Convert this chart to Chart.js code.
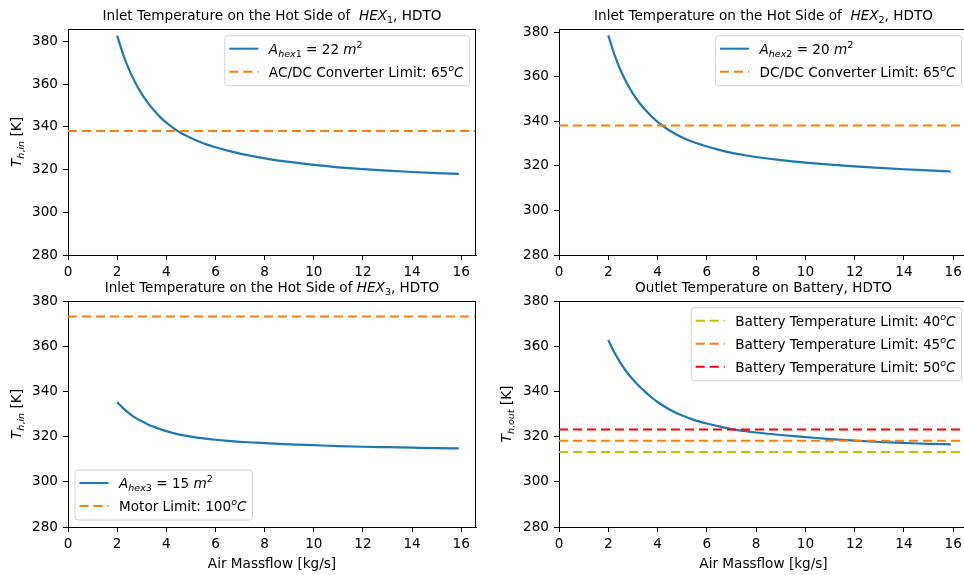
<!DOCTYPE html>
<html>
<head>
<meta charset="utf-8">
<script src="https://cdn.jsdelivr.net/npm/chart.js@4.4.1/dist/chart.umd.min.js"></script>
<style>
  html, body { margin: 0; padding: 0; background: #fff; overflow: hidden; width: 964px; height: 575px; }
  canvas { position: absolute; left: 0; top: 0; }
</style>
</head>
<body>
<canvas id="hex1" width="1000" height="575"></canvas>
<canvas id="hex2" width="1000" height="575"></canvas>
<canvas id="hex3" width="1000" height="575"></canvas>
<canvas id="battery" width="1000" height="575"></canvas>
<script>
// data (air massflow in kg/s, temperatures in K)
const massflow = [2, 2.25, 2.5, 2.75, 3, 3.25, 3.5, 3.75, 4, 4.5, 5, 5.5, 6, 6.5, 7, 7.5, 8, 9, 10, 11, 12, 13, 14, 15, 15.9];
const tHex1    = [382.8, 373.8, 366.5, 360.5, 355.5, 351.3, 347.8, 344.6, 342.0, 337.8, 334.8, 332.4, 330.5, 328.9, 327.5, 326.3, 325.3, 323.6, 322.2, 321.1, 320.2, 319.5, 318.9, 318.4, 318.0];
const tHex2    = [378.6, 370.0, 363.0, 357.2, 352.5, 348.5, 345.2, 342.3, 339.8, 335.8, 332.8, 330.5, 328.7, 327.2, 325.9, 324.9, 324.0, 322.6, 321.5, 320.6, 319.8, 319.1, 318.5, 318.0, 317.5];
const tHex3    = [335.2, 332.5, 330.2, 328.3, 326.8, 325.4, 324.3, 323.3, 322.4, 321.0, 320.0, 319.2, 318.6, 318.1, 317.7, 317.4, 317.1, 316.6, 316.2, 315.8, 315.5, 315.3, 315.1, 314.9, 314.8];
const tBattery = [362.8, 357.2, 352.5, 348.6, 345.3, 342.4, 339.8, 337.4, 335.3, 331.9, 329.3, 327.3, 325.8, 324.5, 323.3, 322.5, 321.8, 320.7, 319.8, 318.9, 318.2, 317.6, 317.2, 316.8, 316.6];

const limitConverter = 338.15;   // 65 C
const limitMotor = 373.15;       // 100 C
const limitBattery = [313.15, 318.15, 323.15]; // 40, 45, 50 C

const xRange = [0, 16.6];
const xStep = 2;
const yMin = 280;
const yStep = 20;
const yMaxes = [385.9, 381.5, 380, 380];

const BLUE = '#1f77b4', ORANGE = '#ff7f0e', RED = '#ff0000', OLIVE = '#bfbf00';
const FONT = 'DejaVu Sans';
const FS = 13.6;

function pts(ys) { return massflow.map((m, i) => ({ x: m, y: ys[i] })); }
function hline(v) { return xRange.map(x => ({ x: x, y: v })); }

function curve(ys) {
  return { data: pts(ys), borderColor: BLUE, borderWidth: 2.2, showLine: true, pointRadius: 0,
           cubicInterpolationMode: 'monotone', order: 10 };
}
function limit(v, color) {
  return { data: hline(v), borderColor: color, borderWidth: 2, borderDash: [9, 5], showLine: true,
           pointRadius: 0, order: 1 };
}

// rich text: segments {t, it, sub, sup}
function segFont(s) {
  const size = (s.sub || s.sup) ? FS * 0.7 : FS;
  return (s.it ? 'italic ' : '') + size + 'px "' + FONT + '"';
}
function richWidth(ctx, segs) {
  let w = 0;
  segs.forEach(s => { ctx.font = segFont(s); w += ctx.measureText(s.t).width; });
  return w;
}
function drawRich(ctx, segs, x, y, align) {
  let cx = align === 'center' ? x - richWidth(ctx, segs) / 2 : x;
  const base = y + FS * 0.36;
  ctx.textBaseline = 'alphabetic';
  ctx.textAlign = 'left';
  ctx.fillStyle = '#000';
  segs.forEach(s => {
    ctx.font = segFont(s);
    const dy = s.sub ? FS * 0.22 : (s.sup ? -FS * 0.4 : 0);
    ctx.fillText(s.t, cx, base + dy);
    cx += ctx.measureText(s.t).width;
  });
}

function drawLegend(ctx, area, lg) {
  const handle = 29, padL = 4.5, gap = 10.5, padR = 6, rowH = 23;
  let maxW = 0;
  lg.items.forEach(it => { maxW = Math.max(maxW, richWidth(ctx, it.label)); });
  const w = padL + handle + gap + maxW + padR;
  const h = 27 + rowH * (lg.items.length - 1);
  let x0, y0;
  if (lg.anchor === 'ur') { x0 = area.right - 6.5 - w; y0 = area.top + 6.7; }
  else { x0 = area.left + 7; y0 = area.bottom - 7 - h; }
  ctx.save();
  ctx.beginPath();
  ctx.roundRect(x0, y0, w, h, 3);
  ctx.fillStyle = 'rgba(255,255,255,0.8)';
  ctx.fill();
  ctx.strokeStyle = '#d4d4d4';
  ctx.lineWidth = 1;
  ctx.stroke();
  lg.items.forEach((it, i) => {
    const cy = y0 + 13 + rowH * i;
    ctx.beginPath();
    ctx.setLineDash(it.dash || []);
    ctx.strokeStyle = it.color;
    ctx.lineWidth = 2;
    ctx.moveTo(x0 + padL, cy);
    ctx.lineTo(x0 + padL + handle, cy);
    ctx.stroke();
    ctx.setLineDash([]);
    drawRich(ctx, it.label, x0 + padL + handle + gap, cy, 'left');
  });
  ctx.restore();
}

const decorations = {
  id: 'decorations',
  afterDraw(chart) {
    const ctx = chart.ctx, a = chart.chartArea, d = chart.options.plugins.decorations;
    ctx.save();
    // top and right spines
    ctx.strokeStyle = '#000';
    ctx.lineWidth = 1;
    ctx.beginPath();
    ctx.moveTo(a.left, a.top + 0.5);
    ctx.lineTo(a.right, a.top + 0.5);
    ctx.moveTo(a.right - 0.5, a.top);
    ctx.lineTo(a.right - 0.5, a.bottom);
    ctx.stroke();
    drawLegend(ctx, a, d.legend);
    const cx = (a.left + a.right) / 2;
    drawRich(ctx, d.title, cx, a.top - 14, 'center');
    if (d.ylabel) {
      ctx.save();
      ctx.translate(d.ylabelX, (a.top + a.bottom) / 2);
      ctx.rotate(-Math.PI / 2);
      drawRich(ctx, d.ylabel, 0, 0, 'center');
      ctx.restore();
    }
    if (d.xlabel) drawRich(ctx, d.xlabel, cx, a.bottom + 36, 'center');
    ctx.restore();
  }
};

function makeChart(id, area, yMax, datasets, deco) {
  const axisFont = { family: FONT, size: FS };
  new Chart(document.getElementById(id), {
    type: 'scatter',
    data: { datasets: datasets },
    plugins: [decorations],
    options: {
      responsive: false,
      animation: false,
      events: [],
      layout: { padding: { left: area.left - 40, top: area.top, right: 1000 - area.right, bottom: 575 - area.bottom - 30 } },
      plugins: { legend: { display: false }, tooltip: { enabled: false }, decorations: deco },
      scales: {
        x: {
          type: 'linear', min: xRange[0], max: xRange[1],
          ticks: { stepSize: xStep, includeBounds: false, autoSkip: false, maxRotation: 0, color: '#000', font: axisFont, padding: 4 },
          grid: { drawOnChartArea: false, drawTicks: true, tickLength: 5, tickColor: '#000', tickWidth: 1 },
          border: { color: '#000', width: 1 },
          afterFit(s) { s.height = 30; }
        },
        y: {
          type: 'linear', min: yMin, max: yMax,
          ticks: { stepSize: yStep, includeBounds: false, color: '#000', font: axisFont, padding: 5 },
          grid: { drawOnChartArea: false, drawTicks: true, tickLength: 5, tickColor: '#000', tickWidth: 1 },
          border: { color: '#000', width: 1 },
          afterFit(s) { s.width = 40; }
        }
      }
    }
  });
}

const tIn = [{ t: 'T', it: true }, { t: 'h', it: true, sub: true }, { t: ',', sub: true }, { t: 'in', it: true, sub: true }, { t: ' [K]' }];
const tOut = [{ t: 'T', it: true }, { t: 'h', it: true, sub: true }, { t: ',', sub: true }, { t: 'out', it: true, sub: true }, { t: ' [K]' }];
const xLabel = [{ t: 'Air Massflow [kg/s]' }];
function area(sq) { return [{ t: 'A', it: true }, { t: 'hex', it: true, sub: true }, { t: sq[0], sub: true }, { t: ' = ' + sq[1] + ' ' }, { t: 'm', it: true }, { t: '2', sup: true }]; }
function degC(text) { return [{ t: text }, { t: 'o', it: true, sup: true }, { t: 'C', it: true }]; }

makeChart('hex1', { left: 68, top: 29, right: 476, bottom: 255 }, yMaxes[0],
  [curve(tHex1), limit(limitConverter, ORANGE)],
  {
    title: [{ t: 'Inlet Temperature on the Hot Side of  ' }, { t: 'HEX', it: true }, { t: '1', sub: true }, { t: ', HDTO' }],
    ylabel: tIn, ylabelX: 16,
    legend: { anchor: 'ur', items: [
      { color: BLUE, label: area(['1', '22']) },
      { color: ORANGE, dash: [9, 5], label: degC('AC/DC Converter Limit: 65') }
    ] }
  });

makeChart('hex2', { left: 559, top: 29, right: 968, bottom: 255 }, yMaxes[1],
  [curve(tHex2), limit(limitConverter, ORANGE)],
  {
    title: [{ t: 'Inlet Temperature on the Hot Side of  ' }, { t: 'HEX', it: true }, { t: '2', sub: true }, { t: ', HDTO' }],
    legend: { anchor: 'ur', items: [
      { color: BLUE, label: area(['2', '20']) },
      { color: ORANGE, dash: [9, 5], label: degC('DC/DC Converter Limit: 65') }
    ] }
  });

makeChart('hex3', { left: 68, top: 301, right: 476, bottom: 527 }, yMaxes[2],
  [curve(tHex3), limit(limitMotor, ORANGE)],
  {
    title: [{ t: 'Inlet Temperature on the Hot Side of ' }, { t: 'HEX', it: true }, { t: '3', sub: true }, { t: ', HDTO' }],
    ylabel: tIn, ylabelX: 16, xlabel: xLabel,
    legend: { anchor: 'll', items: [
      { color: BLUE, label: area(['3', '15']) },
      { color: ORANGE, dash: [9, 5], label: degC('Motor Limit: 100') }
    ] }
  });

makeChart('battery', { left: 559, top: 301, right: 968, bottom: 527 }, yMaxes[3],
  [curve(tBattery), limit(limitBattery[0], OLIVE), limit(limitBattery[1], ORANGE), limit(limitBattery[2], RED)],
  {
    title: [{ t: 'Outlet Temperature on Battery, HDTO' }],
    ylabel: tOut, ylabelX: 506, xlabel: xLabel,
    legend: { anchor: 'ur', items: [
      { color: OLIVE, dash: [9, 5], label: degC('Battery Temperature Limit: 40') },
      { color: ORANGE, dash: [9, 5], label: degC('Battery Temperature Limit: 45') },
      { color: RED, dash: [9, 5], label: degC('Battery Temperature Limit: 50') }
    ] }
  });
</script>
</body>
</html>
